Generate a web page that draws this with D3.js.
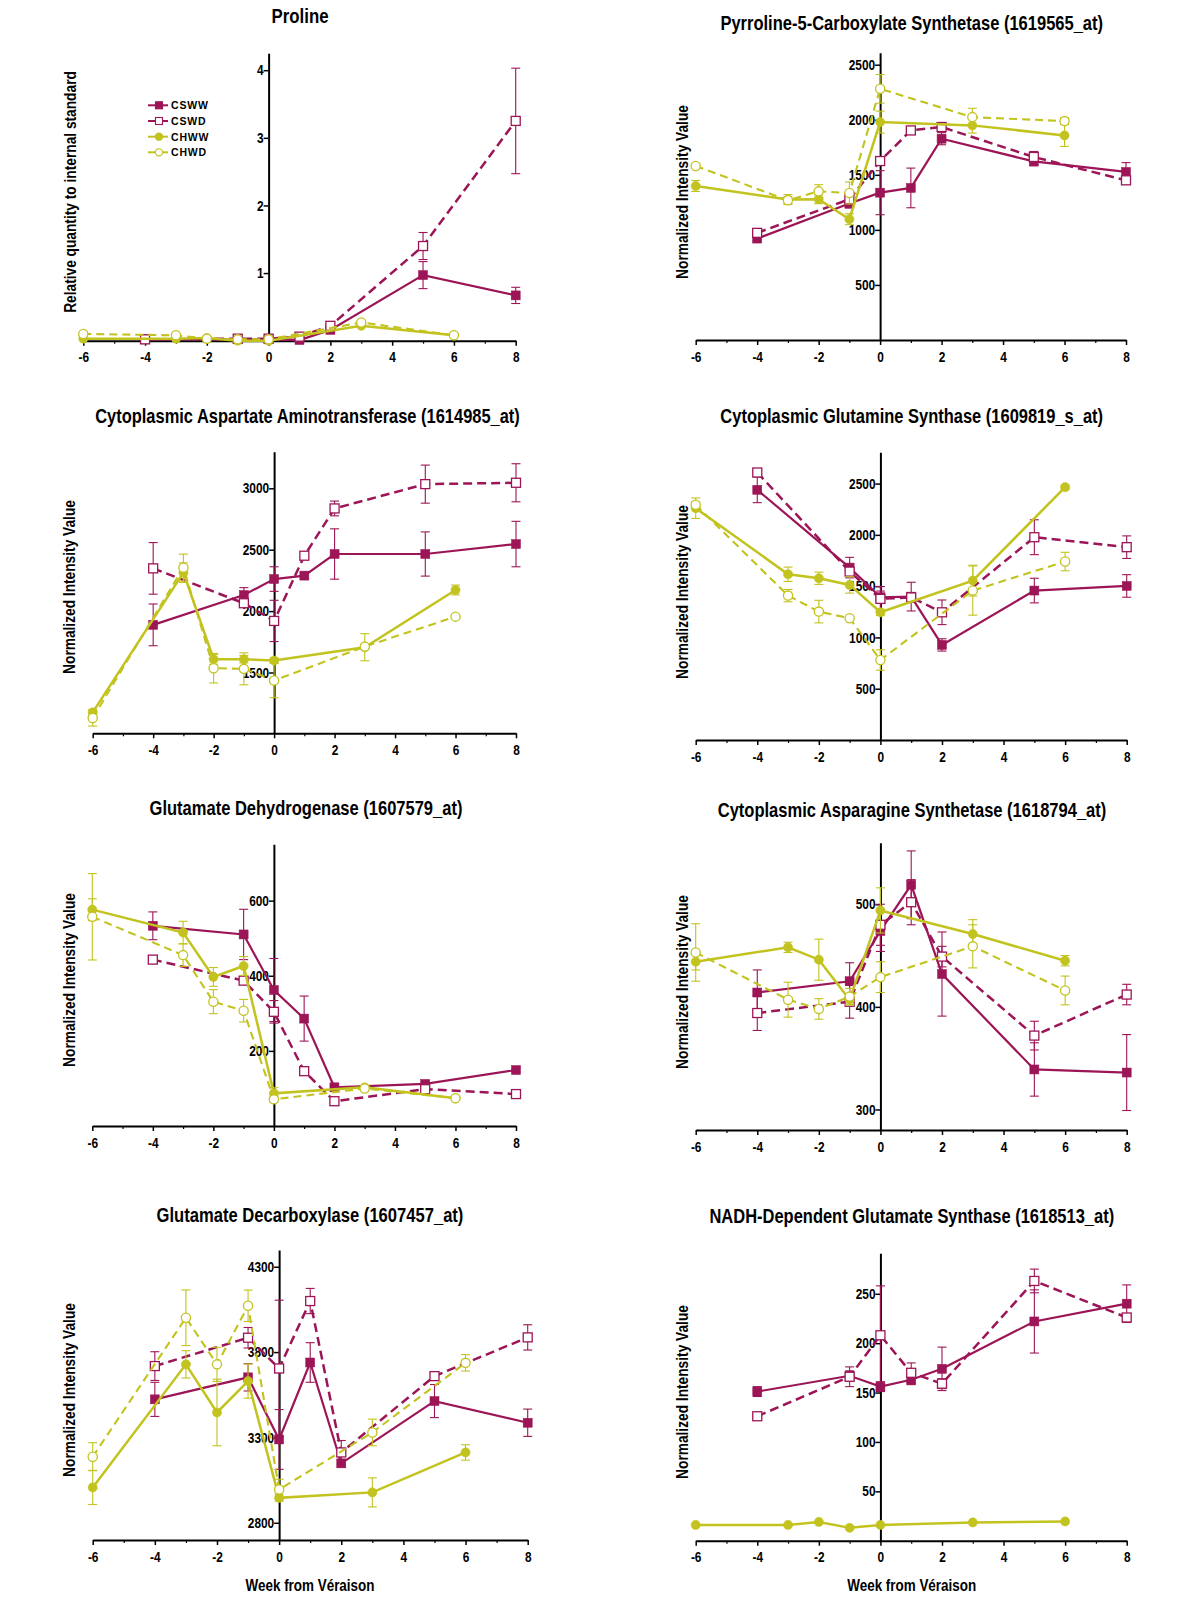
<!DOCTYPE html>
<html>
<head>
<meta charset="utf-8">
<script src="https://cdn.jsdelivr.net/npm/d3@7"></script>
<style>
  body { margin: 0; background: #fff; }
  svg { display: block; }
</style>
</head>
<body>
<svg id="chart" width="1200" height="1600"></svg>
<script>
// ---------------- DATA ----------------
const seriesNames = ["CSWW", "CSWD", "CHWW", "CHWD"];
const weeksCS = [-4, -1, 0, 1, 2, 5, 8];
const weeksCH = [-6, -3, -2, -1, 0, 3, 6];
const xTickLabels = [-6, -4, -2, 0, 2, 4, 6, 8];
const xMinorTicks = [-5, -3, -1, 1, 3, 5, 7];
const xAxisTitle = "Week from Véraison";

const titles = [
  "Proline",
  "Pyrroline-5-Carboxylate Synthetase (1619565_at)",
  "Cytoplasmic Aspartate Aminotransferase (1614985_at)",
  "Cytoplasmic Glutamine Synthase (1609819_s_at)",
  "Glutamate Dehydrogenase (1607579_at)",
  "Cytoplasmic Asparagine Synthetase (1618794_at)",
  "Glutamate Decarboxylase (1607457_at)",
  "NADH-Dependent Glutamate Synthase (1618513_at)"
];
const yTitles = [
  "Relative quantity to internal standard",
  "Normalized  Intensity  Value", "Normalized  Intensity  Value",
  "Normalized  Intensity  Value", "Normalized  Intensity  Value",
  "Normalized  Intensity  Value", "Normalized  Intensity  Value",
  "Normalized  Intensity  Value"
];

// Proline
const proYTicks = [1, 2, 3, 4];
const proCSWW = [0.02, 0.02, 0.02, 0.01, 0.16, 0.97, 0.67];
const proCSWWerr = [0, 0, 0, 0, 0.02, 0.2, 0.12];
const proCSWD = [0.02, 0.03, 0.03, 0.06, 0.22, 1.4, 3.25];
const proCSWDerr = [0, 0, 0, 0, 0.02, 0.2, 0.78];
const proCHWW = [0.03, 0.03, 0.04, 0.0, 0.0, 0.22, 0.08];
const proCHWWerr = [0, 0, 0, 0, 0, 0.02, 0.01];
const proCHWD = [0.1, 0.08, 0.03, 0.02, 0.02, 0.27, 0.08];
const proCHWDerr = [0, 0, 0, 0, 0, 0.03, 0.01];

// Pyrroline-5-Carboxylate Synthetase
const p5cYTicks = [500, 1000, 1500, 2000, 2500];
const p5cCSWW = [921, 1239, 1338, 1381, 1828, 1622, 1526];
const p5cCSWWerr = [20, 40, 200, 180, 55, 40, 85];
const p5cCSWD = [973, 1278, 1625, 1903, 1934, 1662, 1450];
const p5cCSWDerr = [20, 60, 20, 20, 20, 50, 20];
const p5cCHWW = [1399, 1275, 1278, 1097, 1979, 1949, 1858];
const p5cCHWWerr = [50, 45, 40, 50, 100, 70, 100];
const p5cCHWD = [1580, 1269, 1350, 1335, 2281, 2024, 1988];
const p5cCHWDerr = [20, 30, 60, 100, 130, 80, 30];

// Cytoplasmic Aspartate Aminotransferase
const aatYTicks = [1500, 2000, 2500, 3000];
const aatCSWW = [1888, 2131, 2261, 2289, 2465, 2465, 2546];
const aatCSWWerr = [170, 60, 100, 20, 205, 180, 185];
const aatCSWD = [2348, 2064, 1920, 2451, 2836, 3034, 3045];
const aatCSWDerr = [210, 25, 168, 20, 60, 155, 155];
const aatCHWW = [1175, 2313, 1608, 1608, 1597, 1706, 2172];
const aatCHWWerr = [25, 80, 40, 30, 20, 110, 40];
const aatCHWD = [1129, 2354, 1535, 1530, 1435, 1711, 1955];
const aatCHWDerr = [65, 110, 120, 130, 140, 20, 15];

// Cytoplasmic Glutamine Synthase
const gsYTicks = [500, 1000, 1500, 2000, 2500];
const gsCSWW = [2439, 1681, 1392, 1398, 927, 1457, 1502];
const gsCSWWerr = [125, 100, 60, 140, 60, 120, 110];
const gsCSWD = [2608, 1642, 1376, 1390, 1245, 1977, 1880];
const gsCSWDerr = [20, 40, 120, 40, 120, 170, 110];
const gsCHWW = [2260, 1616, 1577, 1512, 1245, 1554, 2465];
const gsCHWWerr = [100, 70, 60, 80, 30, 150, 20];
const gsCHWD = [2293, 1408, 1252, 1187, 780, 1457, 1740];
const gsCHWDerr = [30, 60, 110, 20, 100, 240, 90];

// Glutamate Dehydrogenase
const gdhYTicks = [200, 400, 600];
const gdhCSWW = [533, 510, 362, 286, 103, 112, 149];
const gdhCSWWerr = [37, 67, 84, 60, 5, 5, 5];
const gdhCSWD = [443, 387, 304, 146, 66, 98, 85];
const gdhCSWDerr = [5, 10, 30, 8, 8, 8, 8];
const gdhCHWW = [576, 515, 397, 426, 87, 103, 74];
const gdhCHWWerr = [29, 30, 25, 25, 15, 5, 5];
const gdhCHWD = [557, 455, 331, 307, 71, 100, 74];
const gdhCHWDerr = [115, 30, 32, 30, 8, 5, 5];

// Cytoplasmic Asparagine Synthetase
const asYTicks = [300, 400, 500];
const asCSWW = [414, 425, 474, 519, 432, 339, 336];
const asCSWWerr = [22, 18, 20, 33, 41, 26, 37];
const asCSWD = [394, 405, 480, 502, 449, 372, 412];
const asCSWDerr = [17, 16, 20, 22, 10, 14, 10];
const asCHWW = [444, 458, 446, 407, 494, 471, 445];
const asCHWWerr = [8, 5, 20, 5, 22, 14, 5];
const asCHWD = [453, 407, 398, 410, 429, 459, 416];
const asCHWDerr = [28, 17, 10, 8, 15, 21, 14];

// Glutamate Decarboxylase
const gadYTicks = [2800, 3300, 3800, 4300];
const gadCSWW = [3523, 3652, 3288, 3739, 3148, 3513, 3386];
const gadCSWWerr = [100, 80, 175, 116, 20, 97, 80];
const gadCSWD = [3718, 3884, 3704, 4099, 3212, 3659, 3886];
const gadCSWDerr = [84, 60, 400, 74, 70, 20, 74];
const gadCHWW = [3007, 3728, 3446, 3630, 2946, 2978, 3212];
const gadCHWWerr = [100, 80, 195, 100, 20, 85, 45];
const gadCHWD = [3187, 4001, 3728, 4071, 2995, 3329, 3737];
const gadCHWDerr = [82, 163, 100, 92, 60, 78, 48];

// NADH-Dependent Glutamate Synthase
const gogYTicks = [50, 100, 150, 200, 250];
const gogCSWW = [151, 167, 156, 163, 174, 222, 240];
const gogCSWWerr = [5, 5, 5, 5, 22, 32, 19];
const gogCSWD = [126, 166, 208, 170, 159, 263, 226];
const gogCSWDerr = [2, 10, 50, 10, 5, 12, 3];
const gogCHWW = [16, 16, 19, 13, 16, 18.5, 19.5];
const gogCHWWerr = [0, 0, 0, 0, 0, 0, 0];

// ---------------- STYLE / LAYOUT ----------------
const MAG = "#9c1556";
const YEL = "#c2c31e";
const seriesStyle = {
  CSWW: { color: MAG, dash: null, width: 2.2, marker: "square", filled: true },
  CSWD: { color: MAG, dash: "9,5", width: 2.5, marker: "square", filled: false },
  CHWW: { color: YEL, dash: null, width: 2.5, marker: "circle", filled: true },
  CHWD: { color: YEL, dash: "8,5", width: 2.1, marker: "circle", filled: false }
};

const panels = [
  { x0: 83.3, x1: 515.7, yb: 340.7, yt: 53.3, dom: [0, 4.25], ticks: proYTicks,
    s: { CSWW: [proCSWW, proCSWWerr], CSWD: [proCSWD, proCSWDerr], CHWW: [proCHWW, proCHWWerr], CHWD: [proCHWD, proCHWDerr] },
    title: [300, 23, 57], ylab: [69, 192, 242], legend: true },
  { x0: 695.7, x1: 1126, yb: 340, yt: 52.7, dom: [0, 2609], ticks: p5cYTicks,
    s: { CSWW: [p5cCSWW, p5cCSWWerr], CSWD: [p5cCSWD, p5cCSWDerr], CHWW: [p5cCHWW, p5cCHWWerr], CHWD: [p5cCHWD, p5cCHWDerr] },
    title: [911.7, 30, 383], ylab: [680.7, 192, 174] },
  { x0: 92.7, x1: 516, yb: 733.3, yt: 451.7, dom: [1005, 3298], ticks: aatYTicks,
    s: { CSWW: [aatCSWW, aatCSWWerr], CSWD: [aatCSWD, aatCSWDerr], CHWW: [aatCHWW, aatCHWWerr], CHWD: [aatCHWD, aatCHWDerr] },
    title: [307.5, 423, 425], ylab: [68.3, 587, 174] },
  { x0: 695.7, x1: 1126.7, yb: 740, yt: 452.3, dom: [0, 2805], ticks: gsYTicks,
    s: { CSWW: [gsCSWW, gsCSWWerr], CSWD: [gsCSWD, gsCSWDerr], CHWW: [gsCHWW, gsCHWWerr], CHWD: [gsCHWD, gsCHWDerr] },
    title: [911.7, 423, 383], ylab: [680.7, 592, 174] },
  { x0: 92.3, x1: 516, yb: 1126, yt: 844.3, dom: [0, 750], ticks: gdhYTicks,
    s: { CSWW: [gdhCSWW, gdhCSWWerr], CSWD: [gdhCSWD, gdhCSWDerr], CHWW: [gdhCHWW, gdhCHWWerr], CHWD: [gdhCHWD, gdhCHWDerr] },
    title: [306, 815, 313], ylab: [68.3, 980, 174] },
  { x0: 695.7, x1: 1126.7, yb: 1130, yt: 842.7, dom: [280, 560], ticks: asYTicks,
    s: { CSWW: [asCSWW, asCSWWerr], CSWD: [asCSWD, asCSWDerr], CHWW: [asCHWW, asCHWWerr], CHWD: [asCHWD, asCHWDerr] },
    title: [912, 817, 389], ylab: [680.7, 982, 174] },
  { x0: 92.7, x1: 527.7, yb: 1540, yt: 1250, dom: [2699, 4398], ticks: gadYTicks,
    s: { CSWW: [gadCSWW, gadCSWWerr], CSWD: [gadCSWD, gadCSWDerr], CHWW: [gadCHWW, gadCHWWerr], CHWD: [gadCHWD, gadCHWDerr] },
    title: [310, 1222, 307], ylab: [68.3, 1390, 174], xlab: [310, 1591, 129] },
  { x0: 695.7, x1: 1126.7, yb: 1540.7, yt: 1253.3, dom: [0, 291], ticks: gogYTicks,
    s: { CSWW: [gogCSWW, gogCSWWerr], CSWD: [gogCSWD, gogCSWDerr], CHWW: [gogCHWW, gogCHWWerr] },
    title: [911.8, 1223, 405], ylab: [680.7, 1392, 174], xlab: [911.7, 1591, 129] }
];

const FONT = "'Liberation Sans', Arial, sans-serif";
const svg = d3.select("#chart");

function drawMarker(g, kind, filled, color, cx, cy) {
  if (kind === "square") {
    g.append("rect").attr("x", cx - 4.5).attr("y", cy - 4.5).attr("width", 9).attr("height", 9)
      .attr("fill", filled ? color : "#fff").attr("stroke", color).attr("stroke-width", filled ? 0.5 : 1.3);
  } else {
    g.append("circle").attr("cx", cx).attr("cy", cy).attr("r", 4.6)
      .attr("fill", filled ? color : "#fff").attr("stroke", color).attr("stroke-width", filled ? 0.5 : 1.3);
  }
}

// condensed text: keep the glyph height, squeeze horizontally to the target width
function condensedText(g, str, cx, cy, size, target, rotate) {
  const t = g.append("text").attr("x", 0).attr("y", 0).attr("text-anchor", "middle")
    .attr("font-family", FONT).attr("font-weight", "bold").attr("font-size", size).attr("fill", "#000").text(str);
  const w = t.node().getComputedTextLength();
  const sx = Math.min(1, target / w);
  t.attr("transform", `translate(${cx},${cy})${rotate ? " rotate(-90)" : ""} scale(${sx},1)`);
  return t;
}

panels.forEach((p, i) => {
  const g = svg.append("g");
  const x = d3.scaleLinear().domain([-6, 8]).range([p.x0, p.x1]);
  const y = d3.scaleLinear().domain(p.dom).range([p.yb, p.yt]);

  // x axis
  const xa = g.append("g").attr("transform", `translate(0,${p.yb})`)
    .call(d3.axisBottom(x).tickValues(xTickLabels).tickSize(5).tickSizeOuter(0).tickFormat(d3.format("d")));
  xa.select(".domain").attr("stroke-width", 2);
  xa.selectAll(".tick line").attr("stroke-width", 1.5);
  xa.selectAll("text").attr("font-family", FONT).attr("font-weight", "bold").attr("font-size", 14.5)
    .attr("fill", "#000").attr("dy", "0.95em").attr("transform", "scale(0.82,1)")
    .text(d => d < 0 ? "-" + Math.abs(d) : d);
  const xm = g.append("g").attr("transform", `translate(0,${p.yb})`)
    .call(d3.axisBottom(x).tickValues(xMinorTicks).tickSize(3).tickSizeOuter(0).tickFormat(""));
  xm.select(".domain").remove();
  xm.selectAll(".tick line").attr("stroke-width", 1.2);

  // y axis at x = 0
  const ya = g.append("g").attr("transform", `translate(${x(0)},0)`)
    .call(d3.axisLeft(y).tickValues(p.ticks).tickSize(5).tickSizeOuter(0).tickFormat(d3.format("d")));
  ya.select(".domain").attr("stroke-width", 2);
  ya.selectAll(".tick line").attr("stroke-width", 1.5);
  ya.selectAll("text").attr("font-family", FONT).attr("font-weight", "bold").attr("font-size", 14.5)
    .attr("fill", "#000").attr("x", -6).attr("transform", "scale(0.82,1)");

  // titles
  condensedText(g, titles[i], p.title[0], p.title[1], 20, p.title[2], false);
  condensedText(g, yTitles[i], p.ylab[0] + 7, p.ylab[1], 17, p.ylab[2], true);
  if (p.xlab) condensedText(g, xAxisTitle, p.xlab[0], p.xlab[1], 17, p.xlab[2], false);

  // series
  seriesNames.forEach(name => {
    if (!p.s[name]) return;
    const st = seriesStyle[name];
    const weeks = name.startsWith("CS") ? weeksCS : weeksCH;
    const [vals, errs] = p.s[name];
    const pts = weeks.map((w, k) => ({ w, v: vals[k], e: errs[k] }));
    const sg = g.append("g");
    pts.forEach(d => {
      if (!d.e) return;
      const cx = x(d.w), y1 = y(d.v + d.e), y2 = y(d.v - d.e);
      sg.append("line").attr("x1", cx).attr("x2", cx).attr("y1", y1).attr("y2", y2).attr("stroke", st.color).attr("stroke-width", 1.1);
      [y1, y2].forEach(yy => sg.append("line").attr("x1", cx - 4.5).attr("x2", cx + 4.5).attr("y1", yy).attr("y2", yy)
        .attr("stroke", st.color).attr("stroke-width", 1.1));
    });
    const line = d3.line().x(d => x(d.w)).y(d => y(d.v));
    sg.append("path").datum(pts).attr("d", line).attr("fill", "none").attr("stroke", st.color)
      .attr("stroke-width", st.width).attr("stroke-dasharray", st.dash);
    pts.forEach(d => drawMarker(sg, st.marker, st.filled, st.color, x(d.w), y(d.v)));
  });

  // legend
  if (p.legend) {
    const ly = [105.3, 121, 136.7, 152.3];
    seriesNames.forEach((name, k) => {
      const st = seriesStyle[name];
      const lg = g.append("g");
      lg.append("line").attr("x1", 148).attr("x2", 168).attr("y1", ly[k]).attr("y2", ly[k])
        .attr("stroke", st.color).attr("stroke-width", 2);
      if (st.marker === "square") {
        lg.append("rect").attr("x", 155.5).attr("y", ly[k] - 3.5).attr("width", 7).attr("height", 7)
          .attr("fill", st.filled ? st.color : "#fff").attr("stroke", st.color).attr("stroke-width", 1.1);
      } else {
        lg.append("circle").attr("cx", 159).attr("cy", ly[k]).attr("r", 3.6)
          .attr("fill", st.filled ? st.color : "#fff").attr("stroke", st.color).attr("stroke-width", 1.1);
      }
      lg.append("text").attr("x", 171).attr("y", ly[k] + 3.8).attr("font-family", FONT)
        .attr("font-size", 10.5).attr("font-weight", "bold").attr("letter-spacing", 0.8).text(name);
    });
  }
});
</script>
</body>
</html>
